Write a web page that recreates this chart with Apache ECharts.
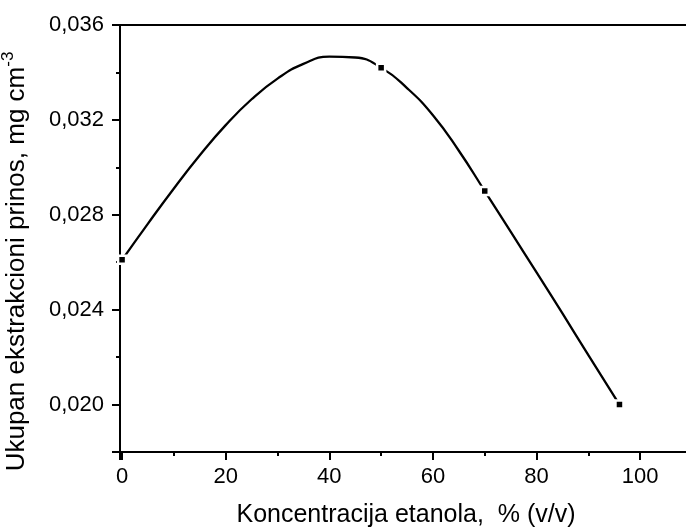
<!DOCTYPE html>
<html>
<head>
<meta charset="utf-8">
<script src="https://cdn.jsdelivr.net/npm/echarts@6/dist/echarts.min.js"></script>
<style>
  html, body { margin: 0; padding: 0; background: #fff; }
  #chart { width: 686px; height: 531px; }
</style>
</head>
<body>
<div id="chart"></div>
<script>
// measured points (square markers)
var pointX = [0, 50, 70, 96];
var pointY = [0.0261, 0.0342, 0.0290, 0.0200];

// spline curve
var curveX = [0, 5, 10, 15, 20, 25, 30, 35, 40, 45, 50, 55, 60, 65, 70, 75, 80, 85, 90, 96];
var curveY = [0.0261, 0.02763, 0.02911, 0.03051, 0.03178, 0.03287, 0.03374, 0.03436, 0.03467, 0.03463,
              0.0342, 0.03334, 0.0322, 0.0307, 0.0290, 0.02729, 0.02557, 0.02384, 0.02208, 0.0200];

var xTicks = [0, 20, 40, 60, 80, 100];
var yTicks = [0.020, 0.024, 0.028, 0.032, 0.036];

var chart = echarts.init(document.getElementById('chart'));

function pairs(xs, ys) {
  var out = [];
  for (var i = 0; i < xs.length; i++) out.push([xs[i], ys[i]]);
  return out;
}
function isTick(list, v) {
  for (var i = 0; i < list.length; i++) {
    if (Math.abs(list[i] - v) < 1e-7) return true;
  }
  return false;
}

var font = 'Liberation Sans, Arial, sans-serif';
var black = '#000';

var xMin = -0.4, xMax = 110;
var yMin = 0.018, yMax = 0.036;

var option = {
  backgroundColor: '#fff',
  animation: false,
  grid: {
    left: 120, top: 25, right: -6, bottom: 79,
    containLabel: false, outerBoundsMode: 'none',
    show: true, borderColor: black, borderWidth: 2, backgroundColor: 'transparent'
  },
  xAxis: [
    {
      // major ticks + labels
      type: 'value', min: xMin, max: xMax,
      minInterval: 20, maxInterval: 20,
      name: 'Koncentracija etanola,  % (v/v)',
      nameLocation: 'middle', nameGap: 51,
      nameTextStyle: { color: black, fontSize: 25, fontFamily: font },
      axisLine: { show: true, onZero: false, lineStyle: { color: black, width: 2 } },
      axisTick: { show: true, length: 8, lineStyle: { color: black, width: 2 } },
      axisLabel: {
        color: black, fontSize: 22, fontFamily: font, margin: 14,
        formatter: function (v) { return isTick(xTicks, v) ? String(v) : ''; }
      },
      splitLine: { show: false }
    },
    {
      // minor ticks
      type: 'value', min: xMin, max: xMax, position: 'bottom',
      minInterval: 10, maxInterval: 10,
      axisLine: { show: false, onZero: false },
      axisTick: { show: true, length: 4, lineStyle: { color: black, width: 2 } },
      axisLabel: { show: false },
      splitLine: { show: false }
    }
  ],
  yAxis: [
    {
      type: 'value', min: yMin, max: yMax,
      minInterval: 0.004, maxInterval: 0.004,
      name: '{a|Ukupan ekstrakcioni prinos, mg cm}{s|-3}',
      nameLocation: 'middle', nameGap: 87, nameRotate: 90,
      nameTextStyle: {
        color: black, fontFamily: font,
        rich: {
          a: { fontSize: 26, fontFamily: font, color: black },
          s: { fontSize: 17, fontFamily: font, color: black, padding: [0, 0, 16, 0] }
        },
        padding: [0, 46, 0, 0]
      },
      axisLine: { show: true, onZero: false, lineStyle: { color: black, width: 2 } },
      axisTick: { show: true, length: 8, lineStyle: { color: black, width: 2 } },
      axisLabel: {
        color: black, fontSize: 22, fontFamily: font, margin: 16,
        formatter: function (v) { return isTick(yTicks, v) ? v.toFixed(3).replace('.', ',') : ''; }
      },
      splitLine: { show: false }
    },
    {
      type: 'value', min: yMin, max: yMax, position: 'left',
      minInterval: 0.002, maxInterval: 0.002,
      axisLine: { show: false, onZero: false },
      axisTick: { show: true, length: 4, lineStyle: { color: black, width: 2 } },
      axisLabel: { show: false },
      splitLine: { show: false }
    }
  ],
  series: [
    {
      type: 'line',
      data: pairs(curveX, curveY),
      smooth: 0.5,
      showSymbol: false,
      symbol: 'none',
      lineStyle: { color: black, width: 2.3 },
      z: 2
    },
    {
      type: 'scatter',
      data: pairs(pointX, pointY),
      symbol: 'rect',
      symbolSize: 8,
      itemStyle: { color: black, borderColor: '#fff', borderWidth: 2.5, opacity: 1 },
      z: 3
    }
  ]
};

chart.setOption(option);
</script>
</body>
</html>
